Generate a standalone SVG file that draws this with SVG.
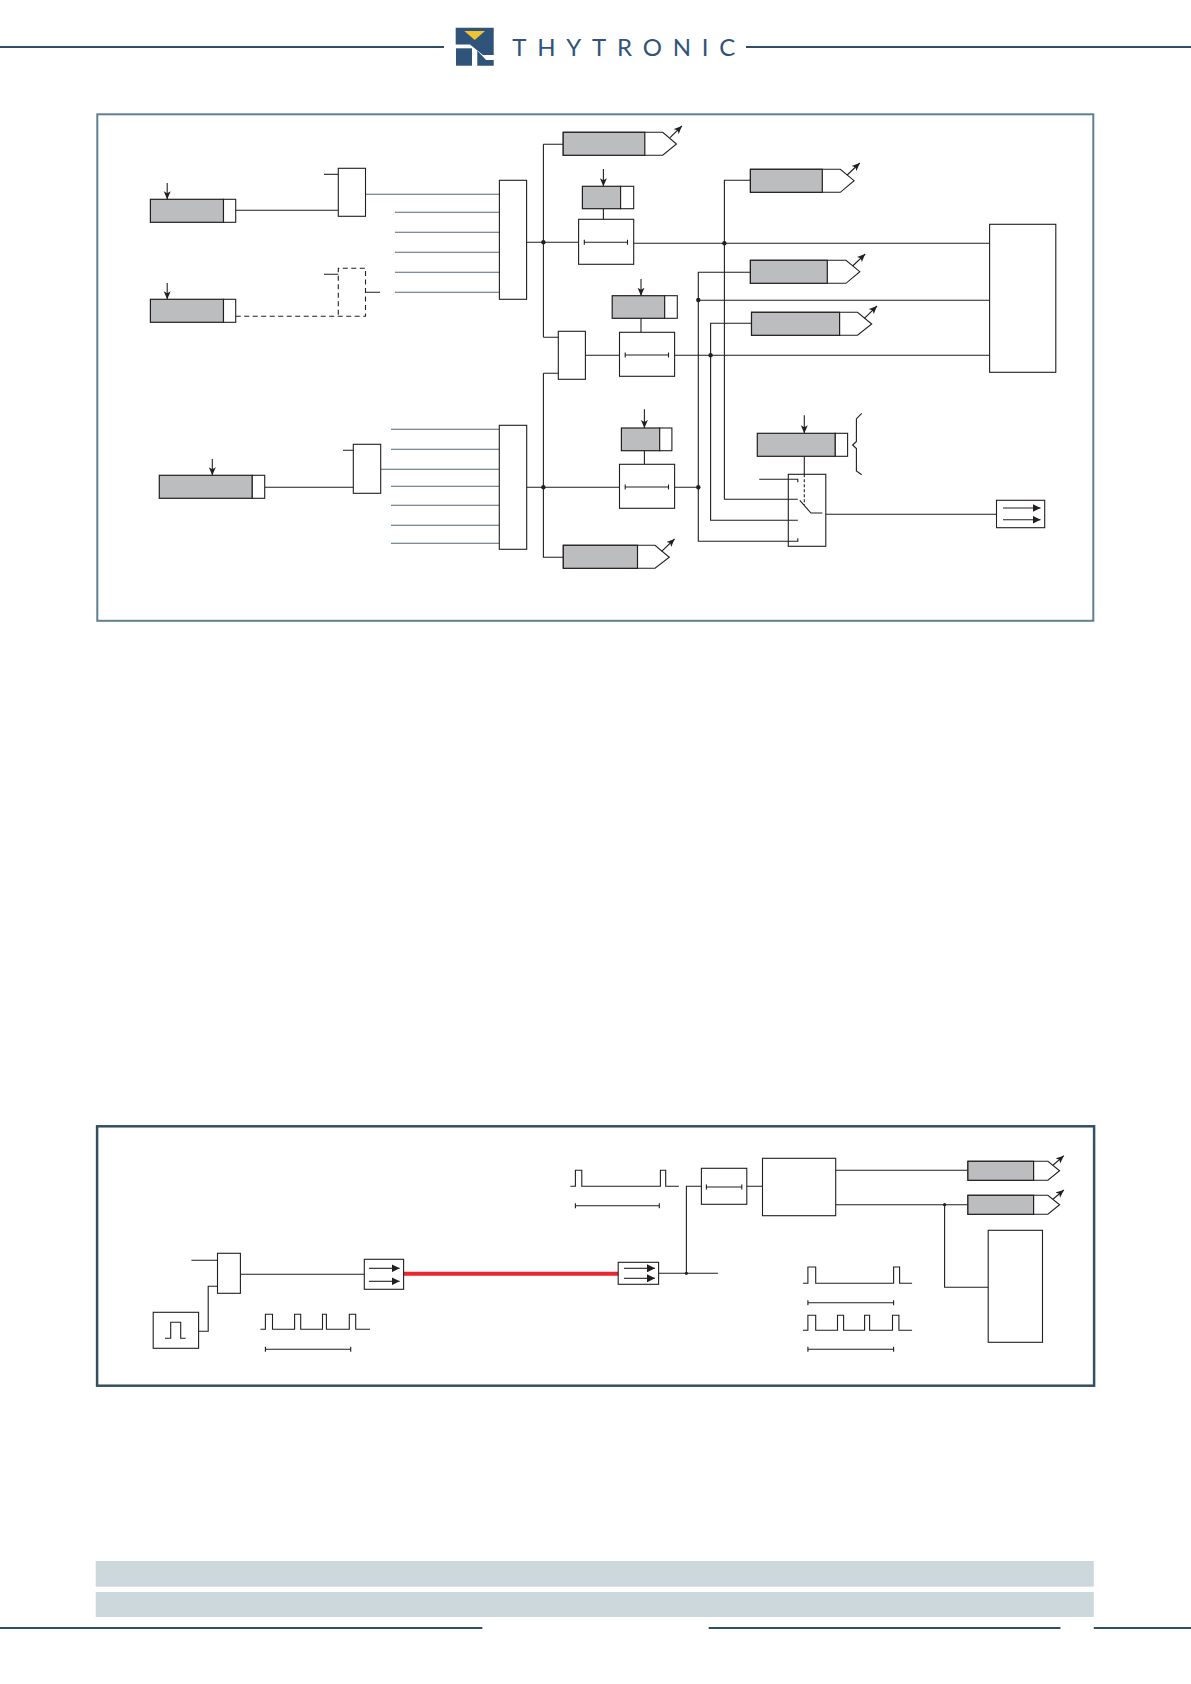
<svg xmlns="http://www.w3.org/2000/svg" width="1191" height="1684" viewBox="0 0 1191 1684">
<style>
.l{fill:none;stroke:#231f20;stroke-width:1.1}
.s{fill:none;stroke:#4f6b78;stroke-width:1.1}
.b{fill:#fff;stroke:#231f20;stroke-width:1.1}
.g{fill:#bcbdbe;stroke:#231f20;stroke-width:1.2}
.d{fill:#fff;stroke:none}
.dash{fill:none;stroke:#231f20;stroke-width:1.1;stroke-dasharray:5 3.5}
.dot{fill:#231f20}
.a{fill:none;stroke:#231f20;stroke-width:1.1;marker-end:url(#ah)}
.o{fill:none;stroke:#231f20;stroke-width:1.1;marker-end:url(#oh)}
.rule{fill:none;stroke:#2f4f68;stroke-width:2}
.band{fill:#ccd8dc}
.navy{fill:#2f5379}
</style>
<defs>
<marker id="ah" viewBox="0 0 8 8" refX="8" refY="4" markerWidth="8" markerHeight="8" markerUnits="userSpaceOnUse" orient="auto"><path d="M0,0.5 L8,4 L0,7.5 L2,4 z" fill="#231f20"/></marker>
<marker id="oh" viewBox="0 0 8 8" refX="8" refY="4" markerWidth="8" markerHeight="8" markerUnits="userSpaceOnUse" orient="auto"><path d="M0,0 L8,4 L0,8 z" fill="#231f20"/></marker>
</defs>
<rect width="1191" height="1684" fill="#fff"/>

<g id="header">
<path class="rule" d="M0,47H444M746,47H1191"/>
<path class="navy" d="M455.7,27.7H493.7V55H483L470,44.5H455.7z"/>
<rect class="navy" x="456" y="48.3" width="16" height="17.4"/>
<path class="navy" d="M477.3,50.5L486,60H493.7V65.7H477.3z"/>
<path fill="#f0c330" d="M464.3,31H485L474.7,40z"/>
<text x="512.3" y="55.7" textLength="223" lengthAdjust="spacing" font-family="Lato, 'Open Sans', sans-serif" font-size="24" fill="#2f5379">THYTRONIC</text>
</g>

<rect id="frame-top" x="97.3" y="114.3" width="996" height="506.5" fill="none" stroke="#5f8093" stroke-width="2"/>
<rect id="frame-bottom" x="97.1" y="1126.3" width="997" height="259.4" fill="none" stroke="#34505f" stroke-width="2.5"/>

<g id="connectors">
<path class="l" d="M235.7,210.3H338.3"/>
<path class="l" d="M324,174.3H338.3"/>
<path class="s" d="M365.5,194.3H499.4M395,212.3H499.4M395,232.3H499.4M395,252.3H499.4M395,272.3H499.4M395,292.3H499.4"/>
<path class="dash" d="M235.7,316.3H365.5V268.3H338.3V316.3"/>
<path class="l" d="M324,274.3H338.3M365.5,292.3H380"/>
<path class="l" d="M526.6,242.3H578.6M543.4,144.3V337.3M543.4,144.3H563.3M543.4,337.3H558.3"/>
<path class="l" d="M603.4,208.7V219.3M633.7,243.3H989.6"/>
<path class="l" d="M750.4,180.3H724.4V499.3H788.3"/>
<path class="l" d="M750.4,272.3H698.3V541.3H788.3"/>
<path class="l" d="M698.3,300.3H989.6"/>
<path class="l" d="M751.5,323.3H710.6V520.3H788.3"/>
<path class="l" d="M585.4,355.3H619.5M674.6,355.3H989.6M641,318.3V332.3"/>
<path class="l" d="M543.4,373.3H558.3M543.4,373.3V557.3H563.3"/>
<path class="l" d="M264.7,487.3H353.3M343,450.3H353.3"/>
<path class="s" d="M391,429.3H499.3M391,449.3H499.3M380.7,469.3H499.3M391,486.3H499.3M391,505.3H499.3M391,525.3H499.3M391,543.3H499.3"/>
<path class="l" d="M526.7,487.3H619.5M674.6,487.3H698.3M644.4,450.7V464.3"/>
<path class="l" d="M804.3,456.3V474.3M759.2,479.3H788.3M825.8,514.3H996.5"/>
<circle class="dot" cx="543.4" cy="242.3" r="2.2"/>
<circle class="dot" cx="724.4" cy="243.3" r="2.2"/>
<circle class="dot" cx="698.3" cy="300" r="2.2"/>
<circle class="dot" cx="710.6" cy="355.3" r="2.2"/>
<circle class="dot" cx="543.4" cy="487.3" r="2.2"/>
<circle class="dot" cx="698.3" cy="487.3" r="2.2"/>

<path class="l" d="M191.4,1260.3H217.5M217.5,1286.3H208.2V1331.3H198.6M240.4,1274.3H364.3"/>
<path d="M403.6,1273.7H618.2" fill="none" stroke="#e8262c" stroke-width="4"/>
<path class="l" d="M658.6,1273.3H717.9M686.4,1273.3V1186.3H701.4M746.8,1186.3H762.5"/>
<path class="l" d="M835.7,1170.3H967.9M835.7,1204.7H967.9M944.6,1204.7V1287.3H988.2"/>
<circle class="dot" cx="686.4" cy="1273.3" r="1.6"/>
<circle class="dot" cx="944.6" cy="1204.7" r="1.6"/>
</g>

<g id="setting-a1"><rect class="g" x="150.4" y="199.3" width="73.1" height="23"/><rect class="b" x="223.5" y="199.3" width="12.2" height="23"/><path class="a" d="M167.2,183V199.3"/></g>
<g id="setting-a2"><rect class="g" x="150.4" y="299.3" width="73.1" height="23"/><rect class="b" x="223.5" y="299.3" width="12.2" height="23"/><path class="a" d="M167.2,283V299.3"/></g>
<g id="setting-b1"><rect class="g" x="159.3" y="475.3" width="93" height="23"/><rect class="b" x="252.3" y="475.3" width="12.4" height="23"/><path class="a" d="M212.3,459V475.3"/></g>
<g id="and-1"><rect class="b" x="338.3" y="168.3" width="27.2" height="48"/></g>
<g id="and-2"><rect class="b" x="353.3" y="444.3" width="27.4" height="49"/></g>
<g id="or-1"><rect class="b" x="499.4" y="180.3" width="27.2" height="119"/></g>
<g id="or-2"><rect class="b" x="499.3" y="425.3" width="27.4" height="124"/></g>
<g id="or-3"><rect class="b" x="558.3" y="331.3" width="27.1" height="48"/></g>

<g id="out-top"><path class="b" d="M563.2,132.3H662.7L676.5,144L662.7,155.3H563.2z"/><rect class="g" x="563.2" y="132.3" width="81.6" height="23"/><path class="a" d="M670,137.7L681.9,126"/></g>
<g id="out-2"><path class="b" d="M750.4,169.3H840.3L854.1,180.7L840.3,192.3H750.4z"/><rect class="g" x="750.4" y="169.3" width="71.9" height="23"/><path class="a" d="M847.2,175L859.8,163"/></g>
<g id="out-3"><path class="b" d="M750.4,260.3H846L859.8,271.7L846,283.3H750.4z"/><rect class="g" x="750.4" y="260.3" width="76.9" height="23"/><path class="a" d="M852.6,266L865.2,254"/></g>
<g id="out-4"><path class="b" d="M751.5,312.3H857.5L871.7,324L857.5,335.3H751.5z"/><rect class="g" x="751.5" y="312.3" width="88.1" height="23"/><path class="a" d="M864.4,318.3L877,306"/></g>
<g id="out-5"><path class="b" d="M563.3,545.3H655L669.3,557.3L655,568.3H563.3z"/><rect class="g" x="563.3" y="545.3" width="74.2" height="23"/><path class="a" d="M661.6,551.3L674.6,539"/></g>

<g id="timer-set-1"><rect class="g" x="582.4" y="186.3" width="38.2" height="22.4"/><rect class="b" x="620.6" y="186.3" width="13.1" height="22.4"/><path class="a" d="M603.4,169V186.3"/></g>
<g id="timer-1"><rect class="b" x="578.6" y="219.3" width="55.1" height="45"/><path class="l" d="M584.3,242.3H627.5M584.3,239.8V244.8M627.5,239.8V244.8"/></g>
<g id="timer-set-2"><rect class="g" x="612.2" y="295.7" width="52.5" height="22.6"/><rect class="b" x="664.7" y="295.7" width="12.6" height="22.6"/><path class="a" d="M641,279V295.7"/></g>
<g id="timer-2"><rect class="b" x="619.5" y="332.3" width="55.1" height="44"/><path class="l" d="M625.2,355H668.5M625.2,352.5V357.5M668.5,352.5V357.5"/></g>
<g id="timer-set-3"><rect class="g" x="621.4" y="428" width="38.3" height="22.7"/><rect class="b" x="659.7" y="428" width="12.2" height="22.7"/><path class="a" d="M644.4,409.3V428"/></g>
<g id="timer-3"><rect class="b" x="619.5" y="464.3" width="55.1" height="44"/><path class="l" d="M625.2,487H668.5M625.2,484.5V489.5M668.5,484.5V489.5"/></g>

<g id="logic-box"><rect class="b" x="989.6" y="224.3" width="66.2" height="148"/></g>
<g id="selector-setting"><rect class="g" x="757.3" y="433.3" width="78" height="23"/><rect class="b" x="835.3" y="433.3" width="12.3" height="23"/><path class="a" d="M804.3,415.3V433.3"/></g>
<path id="brace" class="l" d="M861.7,413.3L856.4,419V441.5L852.6,445L856.4,448.5V471L861.7,474.7"/>
<g id="selector">
<rect class="b" x="788.3" y="474.3" width="37.5" height="72"/>
<path class="l" d="M788.3,479.3H797.8V482.3M788.3,499.3H797.8M788.3,520.3H797.8M788.3,541.3H797.8V538.3"/>
<path class="dash" style="stroke-dasharray:3 2" d="M804.3,474.3V505"/>
<path class="l" d="M799.8,500.3L810.9,513H822.3"/>
</g>
<g id="optic-1"><rect class="b" x="996.5" y="500.3" width="48.2" height="27.4"/><path class="o" d="M1003,508H1040.5"/><path class="o" d="M1003,519.7H1040.5"/></g>

<g id="and-3"><rect class="b" x="217.5" y="1253.3" width="22.9" height="40"/></g>
<g id="pulse-source"><rect class="b" x="153.2" y="1312.3" width="45.4" height="36"/><path class="l" d="M165,1338.3H170.7V1322.3H180.7V1338.3H185.7"/></g>
<g id="optic-tx"><rect class="b" x="364.3" y="1259.3" width="39.3" height="30"/><path class="o" d="M368.9,1268.3H399.6"/><path class="o" d="M368.9,1281.3H399.6"/></g>
<g id="optic-rx"><rect class="b" x="618.2" y="1262.3" width="40.4" height="22"/><path class="o" d="M624,1268.3H655"/><path class="o" d="M624,1278.3H655"/></g>
<g id="timer-4"><rect class="b" x="701.4" y="1168.3" width="45.4" height="36"/><path class="l" d="M706.4,1187H741.8M706.4,1184.5V1189.5M741.8,1184.5V1189.5"/></g>
<g id="decoder"><rect class="b" x="762.5" y="1158.3" width="73.2" height="57.4"/></g>
<g id="out-6"><path class="b" d="M967.9,1161.3H1047.9L1059.6,1170.7L1047.9,1180.3H967.9z"/><rect class="g" x="967.9" y="1161.3" width="65.7" height="19"/><path class="a" d="M1053.2,1165L1063.9,1155.7"/></g>
<g id="out-7"><path class="b" d="M967.9,1195.3H1047.9L1059.6,1204.8L1047.9,1214.3H967.9z"/><rect class="g" x="967.9" y="1195.3" width="65.7" height="19"/><path class="a" d="M1053.2,1199L1063.9,1190"/></g>
<g id="logic-box-2"><rect class="b" x="988.2" y="1230.3" width="54.3" height="112"/></g>

<g id="waveforms">
<path class="l" d="M260.4,1329.3H265.4V1314.3H272.5V1329.3H294.6V1314.3H300.7V1329.3H322.5V1314.3H326.4V1329.3H349.3V1314.3H355.7V1329.3H370"/>
<path class="l" d="M265.4,1349.3H350.7M265.4,1346.8V1351.8M350.7,1346.8V1351.8"/>
<path class="l" d="M570.4,1186.3H575.4V1170.3H581.8V1186.3H660.4V1170.3H665.7V1186.3H678.9"/>
<path class="l" d="M575.4,1205.7H659.3M575.4,1203.2V1208.2M659.3,1203.2V1208.2"/>
<path class="l" d="M802.9,1283.3H807.9V1267H815.7V1283.3H893.6V1267H899.6V1283.3H912.1"/>
<path class="l" d="M807.9,1302.7H893.6M807.9,1300.2V1305.2M893.6,1300.2V1305.2"/>
<path class="l" d="M802.9,1330.3H807.9V1315.3H815.7V1330.3H837.5V1315.3H843.6V1330.3H864.6V1315.3H869.6V1330.3H892.5V1315.3H898.9V1330.3H912.1"/>
<path class="l" d="M807.9,1349.3H893.6M807.9,1346.8V1351.8M893.6,1346.8V1351.8"/>
</g>

<g id="footer">
<rect class="band" x="95.7" y="1561" width="998.1" height="25.7"/>
<rect class="band" x="95.7" y="1592" width="998.1" height="25"/>
<path class="rule" d="M0,1628H482.3M708.7,1628H1060.4M1093.8,1628H1191"/>
</g>
</svg>
